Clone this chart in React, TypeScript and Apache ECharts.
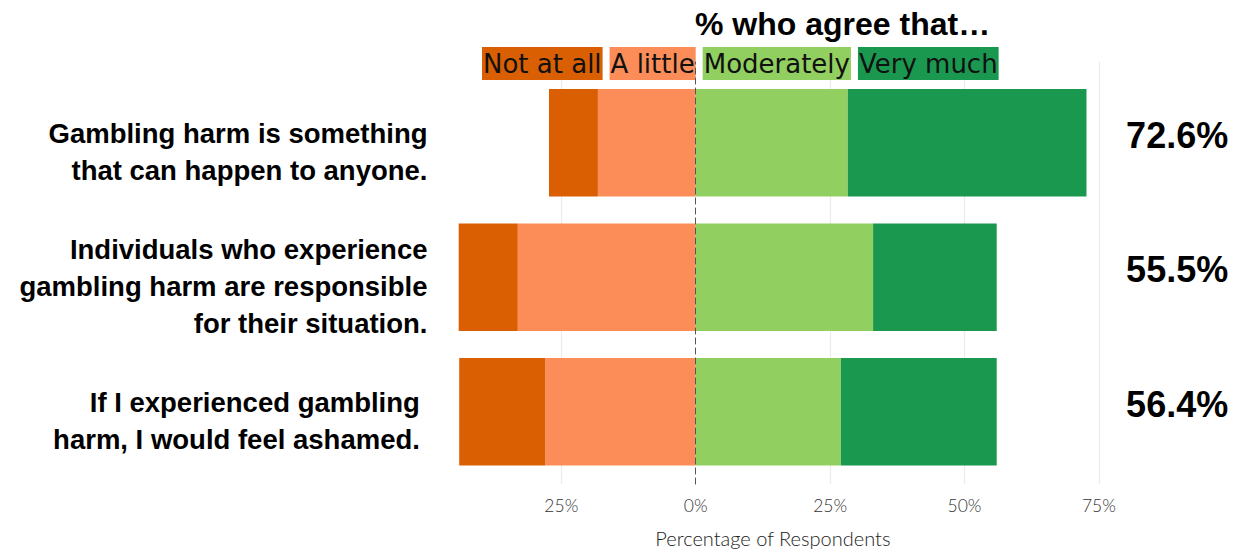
import React, { useEffect, useRef } from "react";
import * as echarts from "echarts";

const categories = [
  "Gambling harm is something\nthat can happen to anyone.",
  "Individuals who experience\ngambling harm are responsible\nfor their situation.",
  "If I experienced gambling\u00a0\nharm, I would feel ashamed.\u00a0",
];
const levels = ["Not at all", "A little", "Moderately", "Very much"];
const levelColors = ["#d95f02", "#fc8d59", "#91cf60", "#1a9850"];

const notAtAll = [9.1, 11.0, 16.0];
const aLittle = [18.2, 33.1, 28.0];
const moderately = [28.3, 33.0, 27.0];
const veryMuch = [44.4, 23.0, 29.0];

const agreeTotals = [72.6, 55.5, 56.4];
const xTickValues = [-25, 0, 25, 50, 75];
const xGridValues = [-25, 25, 50, 75];

const BOLD = "'Liberation Sans', Arial, sans-serif";

export default function App() {
  const ref = useRef<HTMLDivElement>(null);
  useEffect(() => {
    if (!ref.current) return;
    const chart = echarts.init(ref.current, null, { renderer: "svg" });
    const xMin = -49.9;
    const xMax = 78.6;
    const option: any = {
      animation: false,
      backgroundColor: "#ffffff",
      title: {
        text: "% who agree that…",
        left: 695,
        top: 8,
        padding: 0,
        textStyle: { fontFamily: BOLD, fontWeight: "bold", fontSize: 32, color: "#000" },
      },
      legend: {
        left: 477,
        top: 47,
        padding: 0,
        itemGap: 2,
        itemWidth: 0,
        itemHeight: 32,
        selectedMode: false,
        data: levels.map((l, i) => ({
          name: l,
          icon: "none",
          textStyle: {
            backgroundColor: levelColors[i],
            padding: [0, 1],
            lineHeight: 33,
            fontSize: 26,
            fontFamily: "'DejaVu Sans', sans-serif",
            color: "#111",
          },
        })),
      },
      grid: [
        { left: 427.5, right: 115.8, top: 75.45, bottom: 74.05 },
        { left: 427.5, right: 115.8, top: 62, bottom: 60.6 },
      ],
      xAxis: [
        { type: "value", gridIndex: 0, min: xMin, max: xMax, show: false },
        {
          type: "value",
          gridIndex: 1,
          min: xMin,
          max: xMax,
          name: "Percentage of Respondents",
          nameLocation: "middle",
          nameGap: 44,
          nameTextStyle: { fontFamily: "Lato, sans-serif", fontWeight: 300, fontSize: 20, color: "#222" },
          axisLine: { show: false },
          axisTick: { show: false, customValues: xGridValues },
          splitLine: { show: true, lineStyle: { color: "#ebebeb", width: 1.2 } },
          axisLabel: {
            customValues: xTickValues,
            margin: 12,
            fontFamily: "Lato, sans-serif",
            fontWeight: 300,
            fontSize: 17.5,
            color: "#333",
            formatter: (v: number) => Math.abs(v) + "%",
          },
        },
      ],
      yAxis: [
        {
          type: "category",
          gridIndex: 0,
          inverse: true,
          data: categories,
          axisLine: { show: false },
          axisTick: { show: false },
          axisLabel: {
            margin: 0,
            align: "right",
            formatter: (v: string) =>
              "{s| }\n" + v.split("\n").map((l) => "{t|" + l + "}").join("\n"),
            rich: {
              s: { fontSize: 2, lineHeight: 19 },
              t: {
                fontFamily: BOLD,
                fontWeight: "bold",
                fontSize: 27.5,
                lineHeight: 37,
                color: "#000",
                align: "right",
              },
            },
          },
        },
        {
          type: "category",
          gridIndex: 0,
          inverse: true,
          position: "right",
          data: categories,
          axisLine: { show: false },
          axisTick: { show: false },
          axisLabel: {
            margin: 110,
            align: "right",
            formatter: (_v: string, i: number) =>
              "{p|" + agreeTotals[i].toFixed(1) + "%}\n{s| }",
            rich: {
              p: {
                fontFamily: BOLD,
                fontWeight: "bold",
                fontSize: 36,
                lineHeight: 40,
                color: "#000",
                align: "right",
              },
              s: { fontSize: 2, lineHeight: 15 },
            },
          },
        },
        {
          type: "value",
          gridIndex: 1,
          min: 0,
          max: 1,
          z: 5,
          axisLabel: { show: false },
          axisTick: { show: false },
          splitLine: { show: false },
          axisLine: {
            show: true,
            onZero: true,
            lineStyle: { color: "#555", width: 1, type: [6, 4] },
          },
        },
      ],
      series: [
        {
          name: "A little",
          type: "bar",
          stack: "total",
          xAxisIndex: 0,
          yAxisIndex: 0,
          barWidth: "80%",
          itemStyle: { color: levelColors[1] },
          data: aLittle.map((v) => -v),
        },
        {
          name: "Not at all",
          type: "bar",
          stack: "total",
          xAxisIndex: 0,
          yAxisIndex: 0,
          barWidth: "80%",
          itemStyle: { color: levelColors[0] },
          data: notAtAll.map((v) => -v),
        },
        {
          name: "Moderately",
          type: "bar",
          stack: "total",
          xAxisIndex: 0,
          yAxisIndex: 0,
          barWidth: "80%",
          itemStyle: { color: levelColors[2] },
          data: moderately,
        },
        {
          name: "Very much",
          type: "bar",
          stack: "total",
          xAxisIndex: 0,
          yAxisIndex: 0,
          barWidth: "80%",
          itemStyle: { color: levelColors[3] },
          data: veryMuch,
        },
      ],
    };
    chart.setOption(option);
    return () => chart.dispose();
  }, []);
  return (
    <div
      ref={ref}
      style={{ position: "fixed", left: 0, top: 0, width: 1234, height: 553 }}
    />
  );
}
